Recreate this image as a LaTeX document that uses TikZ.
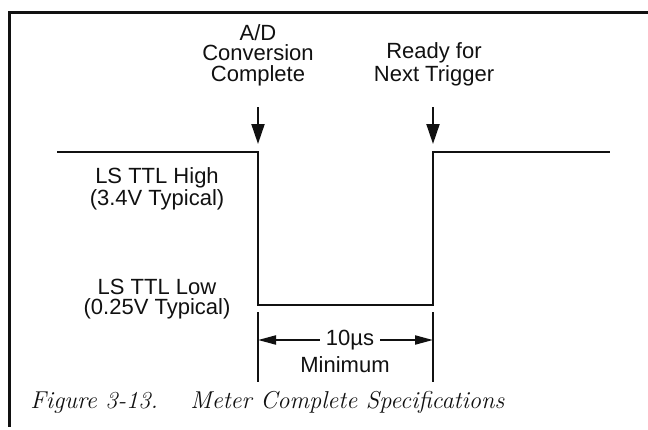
\documentclass[tikz,border=0pt]{standalone}
\usepackage{fontspec}
\setsansfont{Liberation Sans}
\usepackage{xcolor}
\usetikzlibrary{arrows.meta,positioning,calc}
\definecolor{Ink}{HTML}{111111}
\definecolor{Paper}{HTML}{FFFFFF}
\tikzset{
  lbl/.style={align=center,font=\sffamily\fontsize{11}{10.2}\selectfont,text=Ink,inner sep=0pt},
  figcap/.style={font=\itshape\fontsize{12.2}{13}\selectfont,text=Ink,inner sep=0pt},
  frame/.style={draw=Ink,line width=1.5pt},
  sig/.style={draw=Ink,line width=1.1pt},
  dimline/.style={draw=Ink,line width=1pt},
  trig/.style={-{Triangle[length=10pt,width=6.5pt]},draw=Ink,line width=1pt},
  dimarr/.style={-{Triangle[length=9pt,width=4.5pt]},draw=Ink,line width=1pt}
}

\begin{document}
\begin{tikzpicture}[x=0.5pt,y=-0.5pt]
  \fill[Paper] (0,0) rectangle (648,429);
  \useasboundingbox (0,0) rectangle (648,429);
  \draw[frame] (648,12) -- (9,12) -- (9,427);
  \coordinate (hiL) at (57,152);
  \coordinate (fall) at (258,152);
  \coordinate (lowL) at (258,305);
  \coordinate (lowR) at (433,305);
  \coordinate (rise) at (433,152);
  \coordinate (hiR) at (610,152);
  \draw[sig] (hiL) -- (fall) -- (lowL) -- (lowR) -- (rise) -- (hiR);
  \node[lbl,anchor=south] (adc) at (258,86) {A/D\\Conversion\\Complete};
  \node[lbl,anchor=south] (ready) at (434,86) {Ready for\\Next Trigger};
  \draw[trig,shorten <=10.5pt,shorten >=4pt] (adc.south) -- (fall);
  \draw[trig,shorten <=10.5pt,shorten >=4pt] (ready.south -| rise) -- (rise);
  \node[lbl] (high) at (157,189) {LS TTL High\\(3.4V Typical)};
  \node[lbl] (low) at (157,299) {LS TTL Low\\(0.25V Typical)};
  \coordinate (dimLt) at (258,312);
  \coordinate (dimLb) at (258,382);
  \coordinate (dimRt) at (433,312);
  \coordinate (dimRb) at (433,382);
  \draw[dimline] (dimLt) -- (dimLb);
  \draw[dimline] (dimRt) -- (dimRb);
  \node[lbl,inner xsep=3pt] (tenus) at (350,340) {10µs};
  \node[lbl] (minimum) at (345,365) {Minimum};
  \draw[dimarr] (tenus.west) -- (tenus.west -| dimLt);
  \draw[dimarr] (tenus.east) -- (tenus.east -| dimRt);
  \node[figcap,anchor=base west] (fignum) at (30,408) {Figure 3-13.};
  \node[figcap,anchor=base west] (figtitle) at (190,408) {Meter Complete Specifications};
\end{tikzpicture}
\end{document}
